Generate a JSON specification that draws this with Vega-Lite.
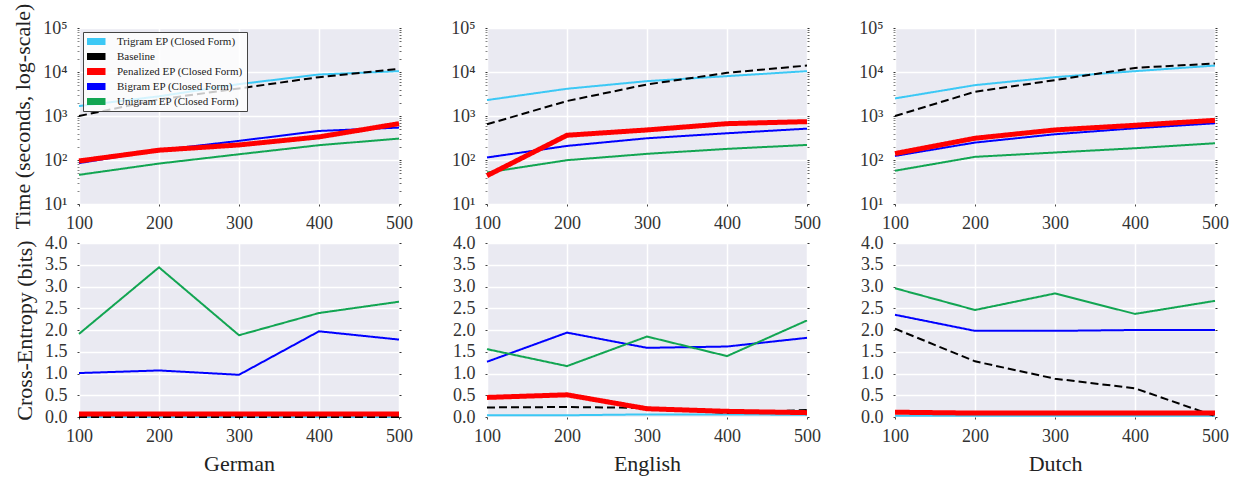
{
  "$schema": "https://vega.github.io/schema/vega-lite/v6.json",
  "padding": {"left": 11, "top": 3, "right": 5, "bottom": 5},
  "background": "white",
  "datasets": {
    "d": [
      {"lang": "German", "metric": "time", "n": 100, "Trigram EP (Closed Form)": 1680, "Baseline": 1000, "Bigram EP (Closed Form)": 85, "Unigram EP (Closed Form)": 46, "Penalized EP (Closed Form)": 95},
      {"lang": "German", "metric": "time", "n": 200, "Trigram EP (Closed Form)": 2800, "Baseline": 2380, "Bigram EP (Closed Form)": 167, "Unigram EP (Closed Form)": 83, "Penalized EP (Closed Form)": 167},
      {"lang": "German", "metric": "time", "n": 300, "Trigram EP (Closed Form)": 5300, "Baseline": 4230, "Bigram EP (Closed Form)": 272, "Unigram EP (Closed Form)": 135, "Penalized EP (Closed Form)": 220},
      {"lang": "German", "metric": "time", "n": 400, "Trigram EP (Closed Form)": 8770, "Baseline": 7640, "Bigram EP (Closed Form)": 457, "Unigram EP (Closed Form)": 217, "Penalized EP (Closed Form)": 335},
      {"lang": "German", "metric": "time", "n": 500, "Trigram EP (Closed Form)": 10450, "Baseline": 11800, "Bigram EP (Closed Form)": 545, "Unigram EP (Closed Form)": 307, "Penalized EP (Closed Form)": 670},
      {"lang": "English", "metric": "time", "n": 100, "Trigram EP (Closed Form)": 2300, "Baseline": 647, "Bigram EP (Closed Form)": 114, "Unigram EP (Closed Form)": 52, "Penalized EP (Closed Form)": 44},
      {"lang": "English", "metric": "time", "n": 200, "Trigram EP (Closed Form)": 4160, "Baseline": 2190, "Bigram EP (Closed Form)": 209, "Unigram EP (Closed Form)": 99, "Penalized EP (Closed Form)": 365},
      {"lang": "English", "metric": "time", "n": 300, "Trigram EP (Closed Form)": 6200, "Baseline": 5210, "Bigram EP (Closed Form)": 312, "Unigram EP (Closed Form)": 138, "Penalized EP (Closed Form)": 482},
      {"lang": "English", "metric": "time", "n": 400, "Trigram EP (Closed Form)": 8050, "Baseline": 9580, "Bigram EP (Closed Form)": 405, "Unigram EP (Closed Form)": 179, "Penalized EP (Closed Form)": 670},
      {"lang": "English", "metric": "time", "n": 500, "Trigram EP (Closed Form)": 10450, "Baseline": 14000, "Bigram EP (Closed Form)": 516, "Unigram EP (Closed Form)": 220, "Penalized EP (Closed Form)": 745},
      {"lang": "Dutch", "metric": "time", "n": 100, "Trigram EP (Closed Form)": 2510, "Baseline": 1000, "Bigram EP (Closed Form)": 124, "Unigram EP (Closed Form)": 57, "Penalized EP (Closed Form)": 140},
      {"lang": "Dutch", "metric": "time", "n": 200, "Trigram EP (Closed Form)": 5030, "Baseline": 3560, "Bigram EP (Closed Form)": 249, "Unigram EP (Closed Form)": 118, "Penalized EP (Closed Form)": 312},
      {"lang": "Dutch", "metric": "time", "n": 300, "Trigram EP (Closed Form)": 7640, "Baseline": 6530, "Bigram EP (Closed Form)": 385, "Unigram EP (Closed Form)": 148, "Penalized EP (Closed Form)": 482},
      {"lang": "Dutch", "metric": "time", "n": 400, "Trigram EP (Closed Form)": 10450, "Baseline": 12400, "Bigram EP (Closed Form)": 526, "Unigram EP (Closed Form)": 185, "Penalized EP (Closed Form)": 615},
      {"lang": "Dutch", "metric": "time", "n": 500, "Trigram EP (Closed Form)": 14000, "Baseline": 15600, "Bigram EP (Closed Form)": 682, "Unigram EP (Closed Form)": 240, "Penalized EP (Closed Form)": 798},
      {"lang": "German", "metric": "ce", "n": 100, "Trigram EP (Closed Form)": 0.0, "Baseline": 0.0, "Bigram EP (Closed Form)": 1.01, "Unigram EP (Closed Form)": 1.91, "Penalized EP (Closed Form)": 0.07},
      {"lang": "German", "metric": "ce", "n": 200, "Trigram EP (Closed Form)": 0.0, "Baseline": 0.0, "Bigram EP (Closed Form)": 1.07, "Unigram EP (Closed Form)": 3.44, "Penalized EP (Closed Form)": 0.07},
      {"lang": "German", "metric": "ce", "n": 300, "Trigram EP (Closed Form)": 0.0, "Baseline": 0.0, "Bigram EP (Closed Form)": 0.97, "Unigram EP (Closed Form)": 1.88, "Penalized EP (Closed Form)": 0.07},
      {"lang": "German", "metric": "ce", "n": 400, "Trigram EP (Closed Form)": 0.0, "Baseline": 0.0, "Bigram EP (Closed Form)": 1.97, "Unigram EP (Closed Form)": 2.39, "Penalized EP (Closed Form)": 0.07},
      {"lang": "German", "metric": "ce", "n": 500, "Trigram EP (Closed Form)": 0.0, "Baseline": 0.0, "Bigram EP (Closed Form)": 1.78, "Unigram EP (Closed Form)": 2.65, "Penalized EP (Closed Form)": 0.07},
      {"lang": "English", "metric": "ce", "n": 100, "Trigram EP (Closed Form)": 0.04, "Baseline": 0.22, "Bigram EP (Closed Form)": 1.27, "Unigram EP (Closed Form)": 1.56, "Penalized EP (Closed Form)": 0.45},
      {"lang": "English", "metric": "ce", "n": 200, "Trigram EP (Closed Form)": 0.04, "Baseline": 0.23, "Bigram EP (Closed Form)": 1.94, "Unigram EP (Closed Form)": 1.17, "Penalized EP (Closed Form)": 0.51},
      {"lang": "English", "metric": "ce", "n": 300, "Trigram EP (Closed Form)": 0.06, "Baseline": 0.21, "Bigram EP (Closed Form)": 1.59, "Unigram EP (Closed Form)": 1.85, "Penalized EP (Closed Form)": 0.19},
      {"lang": "English", "metric": "ce", "n": 400, "Trigram EP (Closed Form)": 0.06, "Baseline": 0.09, "Bigram EP (Closed Form)": 1.62, "Unigram EP (Closed Form)": 1.40, "Penalized EP (Closed Form)": 0.13},
      {"lang": "English", "metric": "ce", "n": 500, "Trigram EP (Closed Form)": 0.05, "Baseline": 0.16, "Bigram EP (Closed Form)": 1.82, "Unigram EP (Closed Form)": 2.22, "Penalized EP (Closed Form)": 0.10},
      {"lang": "Dutch", "metric": "ce", "n": 100, "Trigram EP (Closed Form)": 0.03, "Baseline": 2.03, "Bigram EP (Closed Form)": 2.35, "Unigram EP (Closed Form)": 2.96, "Penalized EP (Closed Form)": 0.11},
      {"lang": "Dutch", "metric": "ce", "n": 200, "Trigram EP (Closed Form)": 0.03, "Baseline": 1.28, "Bigram EP (Closed Form)": 1.98, "Unigram EP (Closed Form)": 2.46, "Penalized EP (Closed Form)": 0.09},
      {"lang": "Dutch", "metric": "ce", "n": 300, "Trigram EP (Closed Form)": 0.03, "Baseline": 0.88, "Bigram EP (Closed Form)": 1.98, "Unigram EP (Closed Form)": 2.84, "Penalized EP (Closed Form)": 0.09},
      {"lang": "Dutch", "metric": "ce", "n": 400, "Trigram EP (Closed Form)": 0.03, "Baseline": 0.66, "Bigram EP (Closed Form)": 2.0, "Unigram EP (Closed Form)": 2.37, "Penalized EP (Closed Form)": 0.09},
      {"lang": "Dutch", "metric": "ce", "n": 500, "Trigram EP (Closed Form)": 0.03, "Baseline": 0.02, "Bigram EP (Closed Form)": 2.0, "Unigram EP (Closed Form)": 2.67, "Penalized EP (Closed Form)": 0.09}
    ]
  },
  "columns": 3,
  "spacing": {"row": 2, "column": 37},
  "resolve": {"scale": {"color": "shared"}, "legend": {"color": "independent"}},
  "concat": [
    {
      "width": 320, "height": 176,
      "data": {"name": "d"},
      "transform": [
        {"filter": "datum.lang === 'German' && datum.metric === 'time'"},
        {"fold": ["Trigram EP (Closed Form)", "Baseline", "Bigram EP (Closed Form)", "Unigram EP (Closed Form)", "Penalized EP (Closed Form)"], "as": ["method", "value"]}
      ],
      "encoding": {
        "x": {"field": "n", "type": "quantitative", "scale": {"domain": [100, 500], "nice": false, "zero": false}, "axis": {"values": [100, 200, 300, 400, 500], "title": null}}
      },
      "layer": [
        {
          "mark": {"type": "line"},
          "encoding": {
            "y": {"field": "value", "type": "quantitative", "scale": {"type": "log", "domain": [10, 100000], "nice": false}, "axis": {"orient": "left", "title": "Time (seconds, log-scale)",
              "values": [10, 20, 30, 40, 50, 60, 70, 80, 90, 100, 200, 300, 400, 500, 600, 700, 800, 900, 1000, 2000, 3000, 4000, 5000, 6000, 7000, 8000, 9000, 10000, 20000, 30000, 40000, 50000, 60000, 70000, 80000, 90000, 100000],
              "labelExpr": "datum.value == 10 ? '10¹' : datum.value == 100 ? '10²' : datum.value == 1000 ? '10³' : datum.value == 10000 ? '10⁴' : datum.value == 100000 ? '10⁵' : ''",
              "gridOpacity": {"condition": {"test": "datum.value == 10 || datum.value == 100 || datum.value == 1000 || datum.value == 10000 || datum.value == 100000", "value": 1}, "value": 0},
              "tickColor": {"condition": {"test": "datum.value == 10 || datum.value == 100 || datum.value == 1000 || datum.value == 10000 || datum.value == 100000", "value": "#333333"}, "value": "#888888"},
              "labelPadding": 10}},
            "color": {"field": "method", "type": "nominal", "scale": {"domain": ["Trigram EP (Closed Form)", "Baseline", "Penalized EP (Closed Form)", "Bigram EP (Closed Form)", "Unigram EP (Closed Form)"], "range": ["#3CC8F5", "#000000", "#FF0000", "#0000FF", "#12A552"]},
              "legend": {"orient": "none", "legendX": 4, "legendY": 4, "title": null, "symbolType": "M-2,0L2,0", "symbolSize": 100, "symbolStrokeWidth": 7, "clipHeight": 11, "fillColor": "rgba(255,255,255,0.78)", "strokeColor": "#444444", "padding": 4, "labelFont": "Liberation Serif", "labelFontSize": 11, "labelColor": "#222222", "rowPadding": 3, "labelOffset": 13}},
            "strokeWidth": {"condition": {"test": "datum.method === 'Penalized EP (Closed Form)'", "value": 5}, "value": 2},
            "strokeDash": {"condition": {"test": "datum.method === 'Baseline'", "value": [8, 4]}, "value": [1, 0]}
          }
        },
        {
          "mark": {"type": "point", "opacity": 0},
          "encoding": {
            "y": {"field": "value", "type": "quantitative", "scale": {"type": "log", "domain": [10, 100000], "nice": false}, "axis": {"orient": "right", "title": null, "labels": false, "grid": false,
              "values": [10, 20, 30, 40, 50, 60, 70, 80, 90, 100, 200, 300, 400, 500, 600, 700, 800, 900, 1000, 2000, 3000, 4000, 5000, 6000, 7000, 8000, 9000, 10000, 20000, 30000, 40000, 50000, 60000, 70000, 80000, 90000, 100000],
              "tickColor": {"condition": {"test": "datum.value == 10 || datum.value == 100 || datum.value == 1000 || datum.value == 10000 || datum.value == 100000", "value": "#333333"}, "value": "#666666"}}}
          }
        }
      ]
    },
    {
      "width": 320, "height": 176,
      "data": {"name": "d"},
      "transform": [
        {"filter": "datum.lang === 'English' && datum.metric === 'time'"},
        {"fold": ["Trigram EP (Closed Form)", "Baseline", "Bigram EP (Closed Form)", "Unigram EP (Closed Form)", "Penalized EP (Closed Form)"], "as": ["method", "value"]}
      ],
      "encoding": {
        "x": {"field": "n", "type": "quantitative", "scale": {"domain": [100, 500], "nice": false, "zero": false}, "axis": {"values": [100, 200, 300, 400, 500], "title": null}}
      },
      "layer": [
        {
          "mark": {"type": "line"},
          "encoding": {
            "y": {"field": "value", "type": "quantitative", "scale": {"type": "log", "domain": [10, 100000], "nice": false}, "axis": {"orient": "left", "title": null,
              "values": [10, 20, 30, 40, 50, 60, 70, 80, 90, 100, 200, 300, 400, 500, 600, 700, 800, 900, 1000, 2000, 3000, 4000, 5000, 6000, 7000, 8000, 9000, 10000, 20000, 30000, 40000, 50000, 60000, 70000, 80000, 90000, 100000],
              "labelExpr": "datum.value == 10 ? '10¹' : datum.value == 100 ? '10²' : datum.value == 1000 ? '10³' : datum.value == 10000 ? '10⁴' : datum.value == 100000 ? '10⁵' : ''",
              "gridOpacity": {"condition": {"test": "datum.value == 10 || datum.value == 100 || datum.value == 1000 || datum.value == 10000 || datum.value == 100000", "value": 1}, "value": 0},
              "tickColor": {"condition": {"test": "datum.value == 10 || datum.value == 100 || datum.value == 1000 || datum.value == 10000 || datum.value == 100000", "value": "#333333"}, "value": "#888888"},
              "labelPadding": 10}},
            "color": {"field": "method", "type": "nominal", "legend": null},
            "strokeWidth": {"condition": {"test": "datum.method === 'Penalized EP (Closed Form)'", "value": 5}, "value": 2},
            "strokeDash": {"condition": {"test": "datum.method === 'Baseline'", "value": [8, 4]}, "value": [1, 0]}
          }
        },
        {
          "mark": {"type": "point", "opacity": 0},
          "encoding": {
            "y": {"field": "value", "type": "quantitative", "scale": {"type": "log", "domain": [10, 100000], "nice": false}, "axis": {"orient": "right", "title": null, "labels": false, "grid": false,
              "values": [10, 20, 30, 40, 50, 60, 70, 80, 90, 100, 200, 300, 400, 500, 600, 700, 800, 900, 1000, 2000, 3000, 4000, 5000, 6000, 7000, 8000, 9000, 10000, 20000, 30000, 40000, 50000, 60000, 70000, 80000, 90000, 100000],
              "tickColor": {"condition": {"test": "datum.value == 10 || datum.value == 100 || datum.value == 1000 || datum.value == 10000 || datum.value == 100000", "value": "#333333"}, "value": "#666666"}}}
          }
        }
      ]
    },
    {
      "width": 320, "height": 176,
      "data": {"name": "d"},
      "transform": [
        {"filter": "datum.lang === 'Dutch' && datum.metric === 'time'"},
        {"fold": ["Trigram EP (Closed Form)", "Baseline", "Bigram EP (Closed Form)", "Unigram EP (Closed Form)", "Penalized EP (Closed Form)"], "as": ["method", "value"]}
      ],
      "encoding": {
        "x": {"field": "n", "type": "quantitative", "scale": {"domain": [100, 500], "nice": false, "zero": false}, "axis": {"values": [100, 200, 300, 400, 500], "title": null}}
      },
      "layer": [
        {
          "mark": {"type": "line"},
          "encoding": {
            "y": {"field": "value", "type": "quantitative", "scale": {"type": "log", "domain": [10, 100000], "nice": false}, "axis": {"orient": "left", "title": null,
              "values": [10, 20, 30, 40, 50, 60, 70, 80, 90, 100, 200, 300, 400, 500, 600, 700, 800, 900, 1000, 2000, 3000, 4000, 5000, 6000, 7000, 8000, 9000, 10000, 20000, 30000, 40000, 50000, 60000, 70000, 80000, 90000, 100000],
              "labelExpr": "datum.value == 10 ? '10¹' : datum.value == 100 ? '10²' : datum.value == 1000 ? '10³' : datum.value == 10000 ? '10⁴' : datum.value == 100000 ? '10⁵' : ''",
              "gridOpacity": {"condition": {"test": "datum.value == 10 || datum.value == 100 || datum.value == 1000 || datum.value == 10000 || datum.value == 100000", "value": 1}, "value": 0},
              "tickColor": {"condition": {"test": "datum.value == 10 || datum.value == 100 || datum.value == 1000 || datum.value == 10000 || datum.value == 100000", "value": "#333333"}, "value": "#888888"},
              "labelPadding": 10}},
            "color": {"field": "method", "type": "nominal", "legend": null},
            "strokeWidth": {"condition": {"test": "datum.method === 'Penalized EP (Closed Form)'", "value": 5}, "value": 2},
            "strokeDash": {"condition": {"test": "datum.method === 'Baseline'", "value": [8, 4]}, "value": [1, 0]}
          }
        },
        {
          "mark": {"type": "point", "opacity": 0},
          "encoding": {
            "y": {"field": "value", "type": "quantitative", "scale": {"type": "log", "domain": [10, 100000], "nice": false}, "axis": {"orient": "right", "title": null, "labels": false, "grid": false,
              "values": [10, 20, 30, 40, 50, 60, 70, 80, 90, 100, 200, 300, 400, 500, 600, 700, 800, 900, 1000, 2000, 3000, 4000, 5000, 6000, 7000, 8000, 9000, 10000, 20000, 30000, 40000, 50000, 60000, 70000, 80000, 90000, 100000],
              "tickColor": {"condition": {"test": "datum.value == 10 || datum.value == 100 || datum.value == 1000 || datum.value == 10000 || datum.value == 100000", "value": "#333333"}, "value": "#666666"}}}
          }
        }
      ]
    },
    {
      "width": 320, "height": 174,
      "data": {"name": "d"},
      "transform": [
        {"filter": "datum.lang === 'German' && datum.metric === 'ce'"},
        {"fold": ["Trigram EP (Closed Form)", "Baseline", "Bigram EP (Closed Form)", "Unigram EP (Closed Form)", "Penalized EP (Closed Form)"], "as": ["method", "value"]}
      ],
      "encoding": {
        "x": {"field": "n", "type": "quantitative", "scale": {"domain": [100, 500], "nice": false, "zero": false}, "axis": {"values": [100, 200, 300, 400, 500], "title": "German"}}
      },
      "layer": [
        {
          "mark": {"type": "line"},
          "encoding": {
            "y": {"field": "value", "type": "quantitative", "scale": {"domain": [0, 4], "nice": false}, "axis": {"orient": "left", "title": "Cross-Entropy (bits)", "values": [0, 0.5, 1, 1.5, 2, 2.5, 3, 3.5, 4], "format": ".1f", "labelPadding": 10}},
            "color": {"field": "method", "type": "nominal", "legend": null},
            "strokeWidth": {"condition": {"test": "datum.method === 'Penalized EP (Closed Form)'", "value": 5}, "value": 2},
            "strokeDash": {"condition": {"test": "datum.method === 'Baseline'", "value": [8, 4]}, "value": [1, 0]}
          }
        },
        {
          "mark": {"type": "point", "opacity": 0},
          "encoding": {
            "y": {"field": "value", "type": "quantitative", "scale": {"domain": [0, 4], "nice": false}, "axis": {"orient": "right", "title": null, "values": [0, 0.5, 1, 1.5, 2, 2.5, 3, 3.5, 4], "labels": false, "grid": false, "tickColor": "#333333"}}
          }
        }
      ]
    },
    {
      "width": 320, "height": 174,
      "data": {"name": "d"},
      "transform": [
        {"filter": "datum.lang === 'English' && datum.metric === 'ce'"},
        {"fold": ["Trigram EP (Closed Form)", "Baseline", "Bigram EP (Closed Form)", "Unigram EP (Closed Form)", "Penalized EP (Closed Form)"], "as": ["method", "value"]}
      ],
      "encoding": {
        "x": {"field": "n", "type": "quantitative", "scale": {"domain": [100, 500], "nice": false, "zero": false}, "axis": {"values": [100, 200, 300, 400, 500], "title": "English"}}
      },
      "layer": [
        {
          "mark": {"type": "line"},
          "encoding": {
            "y": {"field": "value", "type": "quantitative", "scale": {"domain": [0, 4], "nice": false}, "axis": {"orient": "left", "title": null, "values": [0, 0.5, 1, 1.5, 2, 2.5, 3, 3.5, 4], "format": ".1f", "labelPadding": 10}},
            "color": {"field": "method", "type": "nominal", "legend": null},
            "strokeWidth": {"condition": {"test": "datum.method === 'Penalized EP (Closed Form)'", "value": 5}, "value": 2},
            "strokeDash": {"condition": {"test": "datum.method === 'Baseline'", "value": [8, 4]}, "value": [1, 0]}
          }
        },
        {
          "mark": {"type": "point", "opacity": 0},
          "encoding": {
            "y": {"field": "value", "type": "quantitative", "scale": {"domain": [0, 4], "nice": false}, "axis": {"orient": "right", "title": null, "values": [0, 0.5, 1, 1.5, 2, 2.5, 3, 3.5, 4], "labels": false, "grid": false, "tickColor": "#333333"}}
          }
        }
      ]
    },
    {
      "width": 320, "height": 174,
      "data": {"name": "d"},
      "transform": [
        {"filter": "datum.lang === 'Dutch' && datum.metric === 'ce'"},
        {"fold": ["Trigram EP (Closed Form)", "Baseline", "Bigram EP (Closed Form)", "Unigram EP (Closed Form)", "Penalized EP (Closed Form)"], "as": ["method", "value"]}
      ],
      "encoding": {
        "x": {"field": "n", "type": "quantitative", "scale": {"domain": [100, 500], "nice": false, "zero": false}, "axis": {"values": [100, 200, 300, 400, 500], "title": "Dutch"}}
      },
      "layer": [
        {
          "mark": {"type": "line"},
          "encoding": {
            "y": {"field": "value", "type": "quantitative", "scale": {"domain": [0, 4], "nice": false}, "axis": {"orient": "left", "title": null, "values": [0, 0.5, 1, 1.5, 2, 2.5, 3, 3.5, 4], "format": ".1f", "labelPadding": 10}},
            "color": {"field": "method", "type": "nominal", "legend": null},
            "strokeWidth": {"condition": {"test": "datum.method === 'Penalized EP (Closed Form)'", "value": 5}, "value": 2},
            "strokeDash": {"condition": {"test": "datum.method === 'Baseline'", "value": [8, 4]}, "value": [1, 0]}
          }
        },
        {
          "mark": {"type": "point", "opacity": 0},
          "encoding": {
            "y": {"field": "value", "type": "quantitative", "scale": {"domain": [0, 4], "nice": false}, "axis": {"orient": "right", "title": null, "values": [0, 0.5, 1, 1.5, 2, 2.5, 3, 3.5, 4], "labels": false, "grid": false, "tickColor": "#333333"}}
          }
        }
      ]
    }
  ],
  "config": {
    "view": {"fill": "#EAEAF2", "stroke": null},
    "axis": {
      "labelFont": "Liberation Serif", "labelFontSize": 18, "labelColor": "#333333",
      "titleFont": "Liberation Serif", "titleFontSize": 22, "titleColor": "#222222", "titleFontWeight": "normal",
      "domain": false, "ticks": true, "tickSize": 2, "tickColor": "#444444", "tickWidth": 1, "grid": true, "gridColor": "#FFFFFF", "gridWidth": 1.5, "gridOpacity": 1,
      "labelPadding": 8, "titlePadding": 8, "labelFlush": false, "labelOverlap": false, "labelBound": false
    }
  }
}
